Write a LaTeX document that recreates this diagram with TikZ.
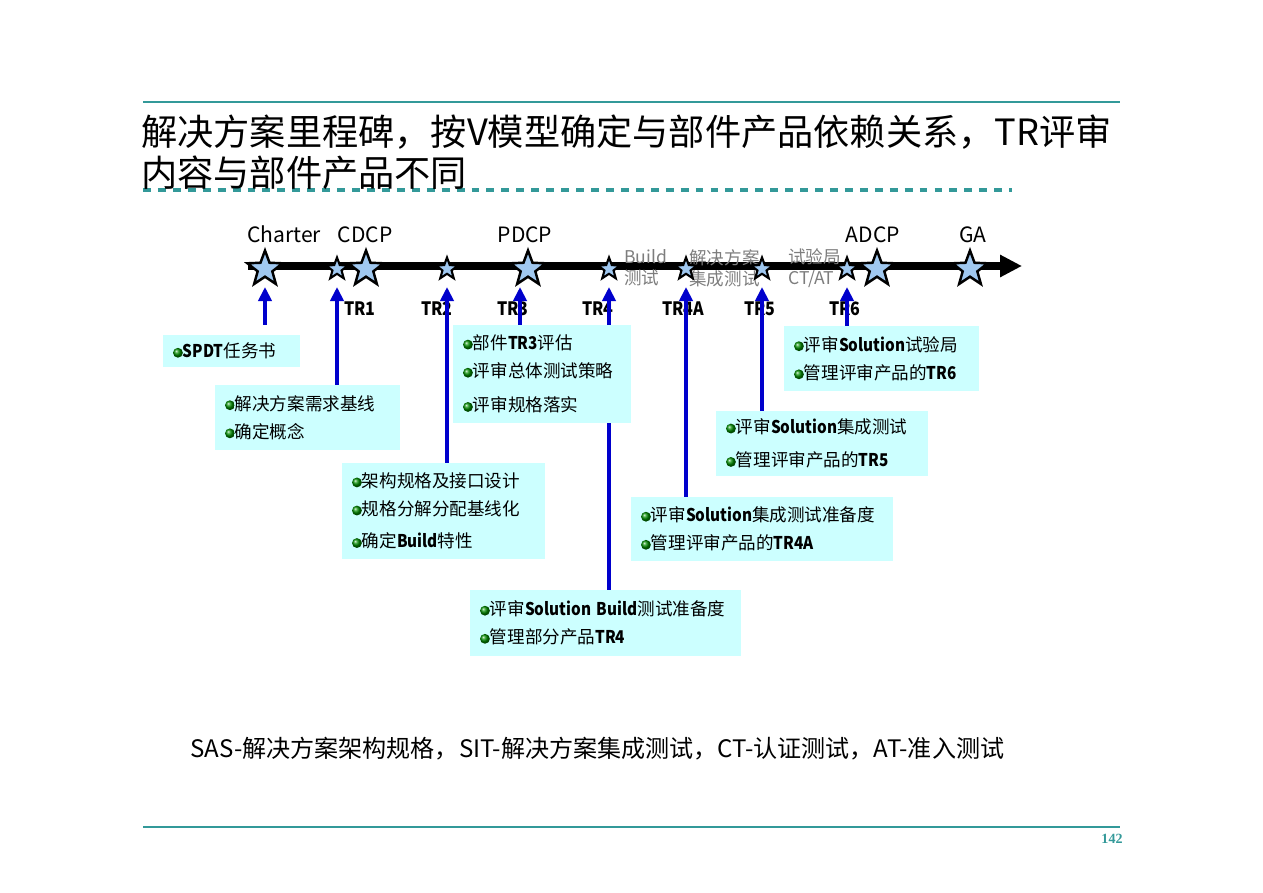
\documentclass[tikz,border=0pt]{standalone}
\usepackage{fontspec}
\setmainfont{Noto Sans CJK SC}[BoldFeatures={FakeStretch=0.87}]
\newfontfamily\pagefont{Liberation Serif}
\usetikzlibrary{calc, positioning, arrows.meta, shapes.geometric, backgrounds}
\definecolor{ruleteal}{RGB}{51, 153, 153}
\definecolor{boxcyan}{RGB}{204, 255, 255}
\definecolor{linkblue}{RGB}{0, 0, 204}
\definecolor{starblue}{RGB}{160, 200, 240}
\definecolor{labgray}{RGB}{125, 125, 125}
\newcommand{\gball}{\tikz[baseline=-0.28em]\shade[ball color=green!55!black] (0,0) circle (2.8pt);}

\begin{document}
\begin{tikzpicture}[
  x=0.02cm, y=-0.02cm,
  box/.style 2 args={fill=boxcyan, text width=#1, minimum height=#2,
              inner xsep=0.2cm, inner ysep=0pt, align=left,
              font=\fontsize{10}{16}\selectfont},
  mstar/.style={shape=star, star points=5, star point ratio=2.4,
              minimum size=0.74cm, inner sep=0pt, draw=black,
              line width=1.4pt, fill=starblue},
  tstar/.style={mstar, minimum size=0.46cm, line width=1.2pt},
  mlabel/.style={anchor=base, inner sep=0pt, font=\fontsize{12}{14}\selectfont},
  trlabel/.style={anchor=base, inner sep=0pt, font=\fontsize{10.5}{13}\selectfont\bfseries},
  glabel/.style={anchor=west, align=left, inner sep=0pt, text=labgray,
              font=\fontsize{10}{12}\selectfont},
  link/.style={draw=linkblue, line width=2.3pt,
              -{Triangle[width=7.5pt, length=8pt]}}
]
  \useasboundingbox (0,0) rectangle (1263,892);

  % page frame
  \draw[ruleteal, line width=0.9pt] (143,102) -- (1120,102);
  \draw[ruleteal, line width=0.9pt] (143,827) -- (1120,827);
  \draw[ruleteal, line width=1.8pt, dash pattern=on 4.5pt off 4pt] (143,190) -- (1012,190);
  \node[anchor=base west, inner sep=0pt, font=\fontsize{20.6}{24}\selectfont] (title1)
    at (141,145) {解决方案里程碑，按V模型确定与部件产品依赖关系，TR评审};
  \node[anchor=base west, inner sep=0pt, font=\fontsize{20.6}{24}\selectfont] (title2)
    at (141,186) {内容与部件产品不同};
  \node[anchor=west, inner sep=0pt, font=\fontsize{13.7}{16}\selectfont] (note)
    at (190,749) {SAS-解决方案架构规格，SIT-解决方案集成测试，CT-认证测试，AT-准入测试};
  \node[inner sep=0pt, text=ruleteal, font=\pagefont\fontsize{8}{9}\selectfont\bfseries] (page)
    at (1112,839) {142};

  % time line
  \coordinate (tlA) at (248,266);
  \coordinate (tlB) at (1022,266);
  \draw[line width=4.5pt, -{Triangle[width=12pt, length=12.5pt]}] (tlA) -- (tlB);

  \node[glabel] (gbuild) at (624,268) {Build\\测试};
  \node[glabel] (gsit) at (689,268) {解决方案\\集成测试};
  \node[glabel] (gctat) at (788,268) {试验局\\CT/AT};

  \node[mstar] (charter) at (265,269) {};
  \node[tstar] (tr1) at (337,269) {};
  \node[mstar] (cdcp) at (366,269) {};
  \node[tstar] (tr2) at (447,269) {};
  \node[mstar] (pdcp) at (528,269) {};
  \node[tstar] (tr4) at (609,269) {};
  \node[tstar] (tr4a) at (686,269) {};
  \node[tstar] (tr5) at (762,269) {};
  \node[tstar] (tr6) at (847,269) {};
  \node[mstar] (adcp) at (877,269) {};
  \node[mstar] (ga) at (970,269) {};

  \node[mlabel] (lcharter) at (284,242) {Charter};
  \node[mlabel] (lcdcp) at (365,242) {CDCP};
  \node[mlabel] (lpdcp) at (525,242) {PDCP};
  \node[mlabel] (ladcp) at (873,242) {ADCP};
  \node[mlabel] (lga) at (973,242) {GA};

  % review boxes
  \node[box={2.34cm}{0.64cm}] (b0) at (231.5,351) {\gball\textbf{SPDT}任务书};
  \node[box={3.3cm}{1.3cm}] (b1) at (307.5,417.5)
    {\gball 解决方案需求基线\\\gball 确定概念};
  \node[box={3.66cm}{1.92cm}] (b2) at (443.5,511)
    {\gball 架构规格及接口设计\\\gball 规格分解分配基线化\\[2.5pt]\gball 确定\textbf{Build}特性};
  \node[box={3.16cm}{1.96cm}] (b3) at (542,374)
    {\gball 部件\textbf{TR3}评估\\\gball 评审总体测试策略\\[3.5pt]\gball 评审规格落实};
  \node[box={5.02cm}{1.32cm}] (b4) at (605.5,623)
    {\gball 评审\textbf{Solution~Build}测试准备度\\\gball 管理部分产品\textbf{TR4}};
  \node[box={4.84cm}{1.28cm}] (b4a) at (762,529)
    {\gball 评审\textbf{Solution}集成测试准备度\\\gball 管理评审产品的\textbf{TR4A}};
  \node[box={3.84cm}{1.3cm}] (b5) at (822,443.5)
    {\gball 评审\textbf{Solution}集成测试\\[3pt]\gball 管理评审产品的\textbf{TR5}};
  \node[box={3.5cm}{1.3cm}] (b6) at (881.5,358.5)
    {\gball 评审\textbf{Solution}试验局\\\gball 管理评审产品的\textbf{TR6}};

  \begin{pgfonlayer}{background}
    \node[trlabel] (ltr1) at (360,315) {TR1};
    \node[trlabel] (ltr2) at (437,315) {TR2};
    \node[trlabel] (ltr3) at (513,315) {TR3};
    \node[trlabel] (ltr4) at (598,315) {TR4};
    \node[trlabel] (ltr4a) at (683,315) {TR4A};
    \node[trlabel] (ltr5) at (760,315) {TR5};
    \node[trlabel] (ltr6) at (845,315) {TR6};

    \draw[link] ($(b0.north -| charter)+(0,-10)$) -- ($(charter)+(0,18)$);
    \draw[link] (b1.north -| tr1) -- ($(tr1)+(0,18)$);
    \draw[link] (b2.north -| tr2) -- ($(tr2)+(0,18)$);
    \draw[link] ($(b3.north -| pdcp)+(-8,0)$) -- ($(pdcp)+(-8,18)$);
    \draw[link] (b4.north -| tr4) -- ($(tr4)+(0,18)$);
    \draw[link] (b4a.north -| tr4a) -- ($(tr4a)+(0,18)$);
    \draw[link] (b5.north -| tr5) -- ($(tr5)+(0,18)$);
    \draw[link] (b6.north -| tr6) -- ($(tr6)+(0,18)$);
  \end{pgfonlayer}
\end{tikzpicture}
\end{document}
